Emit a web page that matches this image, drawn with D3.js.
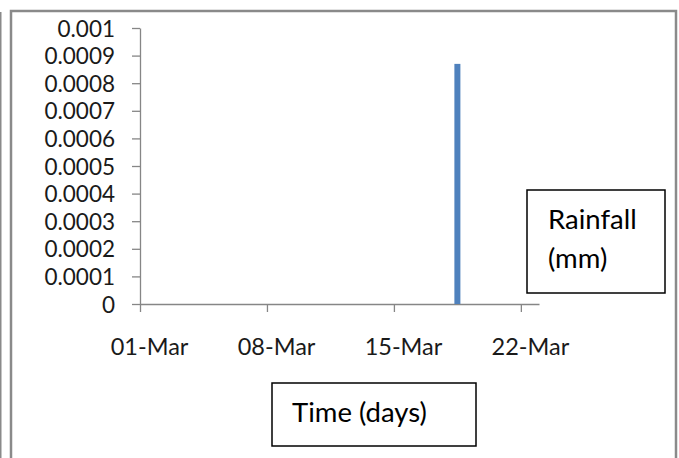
<!DOCTYPE html>
<html>
<head>
<meta charset="utf-8">
<script src="https://cdn.jsdelivr.net/npm/d3@7"></script>
<style>
  body { margin: 0; background: #fff; }
  svg { display: block; }
  .axis path, .axis line { stroke: #868686; stroke-width: 1.3; }
  .axis text { font-family: Lato, sans-serif; font-size: 22.5px; fill: #1a1a1a; }
  .axis.x text { font-size: 23.5px; }
  .boxText { font-family: Lato, sans-serif; font-size: 27.5px; fill: #000; }
</style>
</head>
<body>
<div id="chart"></div>
<script>
var svgWidth = 679;
var svgHeight = 458;

// data: daily rainfall, March
var days = [1, 2, 3, 4, 5, 6, 7, 8, 9, 10, 11, 12, 13, 14, 15, 16, 17, 18, 19, 20, 21, 22];
var rainfall = [0, 0, 0, 0, 0, 0, 0, 0, 0, 0, 0, 0, 0, 0, 0, 0, 0, 0.00087, 0, 0, 0, 0];
var yTicks = [0, 0.0001, 0.0002, 0.0003, 0.0004, 0.0005, 0.0006, 0.0007, 0.0008, 0.0009, 0.001];
var xTickDays = [1, 8, 15, 22];
var yLabel = ["Rainfall", "(mm)"];
var xLabel = "Time (days)";

var margin = { top: 28, left: 140 };
var plotRight = 539, plotBottom = 304;

var svg = d3.select("#chart")
  .append("svg")
  .attr("width", svgWidth)
  .attr("height", svgHeight);

// frame
var frame = "#8a8a8a";
svg.append("line").attr("x1", 0.75).attr("x2", 0.75).attr("y1", 12).attr("y2", svgHeight)
  .attr("stroke", frame).attr("stroke-width", 1.5);
svg.append("path")
  .attr("d", `M11,${svgHeight} L11,11 L676,11 L676,${svgHeight}`)
  .attr("fill", "none").attr("stroke", frame).attr("stroke-width", 2.5);

var day = d => new Date(2014, 2, d);
var data = days.map((d, i) => ({ date: day(d), value: rainfall[i] }));

// scales
var xScale = d3.scaleTime()
  .domain([day(1), day(23)])
  .range([margin.left, plotRight]);
var halfDay = (xScale(day(2)) - xScale(day(1))) / 2;

var yScale = d3.scaleLinear()
  .domain([0, 0.001])
  .range([plotBottom, margin.top]);

// axes
var leftAxis = d3.axisLeft(yScale)
  .tickValues(yTicks)
  .tickSize(8)
  .tickSizeOuter(0)
  .tickPadding(17)
  .tickFormat(d => d === 0 ? "0" : String(+d.toFixed(4)));

var bottomAxis = d3.axisBottom(xScale)
  .tickValues(xTickDays.map(day))
  .tickSize(8)
  .tickSizeOuter(0)
  .tickFormat(d3.timeFormat("%d-%b"));

var gx = svg.append("g")
  .attr("class", "axis x")
  .attr("transform", `translate(0, ${plotBottom})`)
  .call(bottomAxis);
gx.selectAll("text")
  .attr("dy", null)
  .attr("y", 51)
  .attr("x", halfDay);

var gy = svg.append("g")
  .attr("class", "axis y")
  .attr("transform", `translate(${margin.left}, 0)`)
  .call(leftAxis);
gy.selectAll("text").attr("dy", "0.36em");

// bars
var barWidth = 6;
svg.selectAll(".bar")
  .data(data.filter(d => d.value > 0))
  .enter()
  .append("rect")
  .attr("class", "bar")
  .attr("x", d => xScale(d.date) + halfDay - barWidth / 2)
  .attr("y", d => yScale(d.value))
  .attr("width", barWidth)
  .attr("height", d => plotBottom - yScale(d.value))
  .attr("fill", "#4f81bd");

// text boxes
svg.append("rect")
  .attr("x", 527).attr("y", 190).attr("width", 138).attr("height", 103)
  .attr("fill", "#fff").attr("stroke", "#000").attr("stroke-width", 1.5);
svg.append("text")
  .attr("class", "boxText")
  .selectAll("tspan")
  .data(yLabel)
  .enter()
  .append("tspan")
  .attr("x", 548)
  .attr("y", (d, i) => 229 + i * 39)
  .text(d => d);

svg.append("rect")
  .attr("x", 272).attr("y", 383).attr("width", 204).attr("height", 63)
  .attr("fill", "#fff").attr("stroke", "#000").attr("stroke-width", 1.5);
svg.append("text")
  .attr("class", "boxText")
  .attr("x", 292)
  .attr("y", 422)
  .text(xLabel);
</script>
</body>
</html>
